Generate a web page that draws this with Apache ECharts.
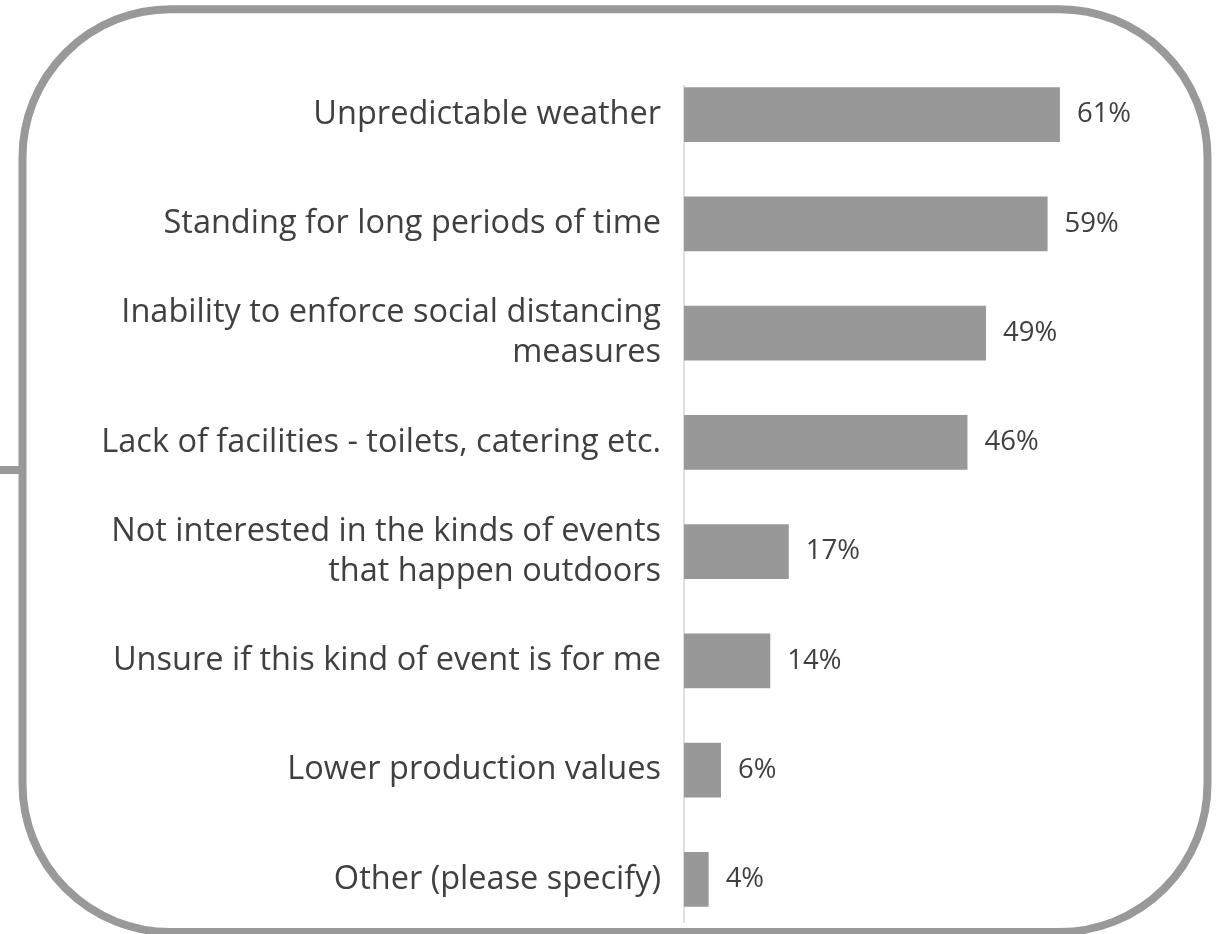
<!DOCTYPE html>
<html>
<head>
<meta charset="utf-8">
<script src="https://cdn.jsdelivr.net/npm/echarts@6/dist/echarts.min.js"></script>
<style>
  html, body { margin: 0; padding: 0; background: #fff; }
  #main { width: 1223px; height: 934px; }
</style>
</head>
<body>
<div id="main"></div>
<script>
// categories top to bottom
var categories = [
  'Unpredictable weather',
  'Standing for long periods of time',
  'Inability to enforce social distancing\nmeasures',
  'Lack of facilities - toilets, catering etc.',
  'Not interested in the kinds of events\nthat happen outdoors',
  'Unsure if this kind of event is for me',
  'Lower production values',
  'Other (please specify)'
];
var values = [61, 59, 49, 46, 17, 14, 6, 4];

var chart = echarts.init(document.getElementById('main'));

var option = {
  animation: false,
  grid: { left: 684, right: 46, top: 60, bottom: 0, containLabel: false },
  xAxis: {
    type: 'value', min: 0, max: 80,
    show: false
  },
  yAxis: {
    type: 'category',
    inverse: true,
    data: categories,
    axisLine: { show: false },
    axisTick: { show: false },
    axisLabel: {
      margin: 23,
      color: '#404040',
      fontFamily: 'Open Sans',
      fontSize: 32.5,
      lineHeight: 40,
      align: 'right'
    }
  },
  series: [{
    type: 'bar',
    data: values,
    barCategoryGap: '50%',
    itemStyle: { color: '#989898' },
    label: {
      show: true,
      position: 'right',
      distance: 17,
      formatter: '{c}%',
      color: '#404040',
      fontFamily: 'Open Sans',
      fontSize: 27.5
    }
  }],
  graphic: [
    {
      type: 'rect',
      shape: { x: 22.5, y: 9.2, width: 1185, height: 922.8, r: 148 },
      style: { fill: 'none', stroke: '#999999', lineWidth: 8 },
      silent: true
    },
    {
      type: 'line',
      shape: { x1: 0, y1: 470, x2: 22, y2: 470 },
      style: { stroke: '#999999', lineWidth: 8 },
      silent: true
    },
    {
      type: 'line',
      shape: { x1: 684, y1: 85, x2: 684, y2: 923 },
      style: { stroke: '#bfbfbf', lineWidth: 1 },
      silent: true
    }
  ]
};

chart.setOption(option);
</script>
</body>
</html>
